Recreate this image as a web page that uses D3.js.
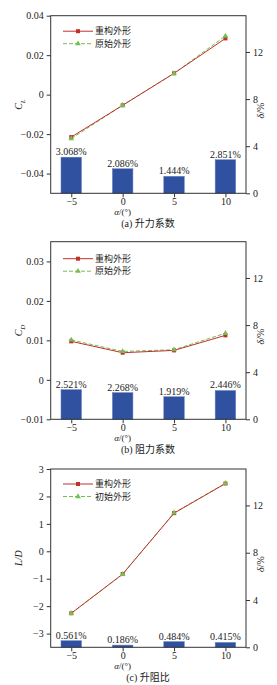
<!DOCTYPE html>
<html>
<head>
<meta charset="utf-8">
<script src="https://cdn.jsdelivr.net/npm/d3@7"></script>
<style>
  body { margin: 0; background: #fff; }
  svg { display: block; }
  text { font-family: "Liberation Serif", "Noto Sans CJK SC", serif; fill: #222; }
</style>
</head>
<body>
<svg id="s" width="277" height="685"></svg>
<script>
// Data
const alpha = [-5, 0, 5, 10];

const clRebuilt = [-0.0215, -0.0054, 0.0108, 0.0285],
  clOriginal = [-0.0223, -0.0054, 0.0108, 0.0297],
  clDelta = [3.068, 2.086, 1.444, 2.851];

const cdRebuilt = [0.00975, 0.00687, 0.00746, 0.01127],
  cdOriginal = [0.0101, 0.0072, 0.00763, 0.0118],
  cdDelta = [2.521, 2.268, 1.919, 2.446];

const ldRebuilt = [-2.26, -0.83, 1.39, 2.47],
  ldOriginal = [-2.26, -0.84, 1.40, 2.48],
  ldDelta = [0.561, 0.186, 0.484, 0.415];

const xTicks = [-5, 0, 5, 10],
  deltaTicks = [0, 4, 8, 12],
  clTicks = [-0.04, -0.02, 0, 0.02, 0.04],
  cdTicks = [-0.01, 0, 0.01, 0.02, 0.03],
  ldTicks = [-3, -2, -1, 0, 1, 2, 3];

const legendNames = [["重构外形", "原始外形"], ["重构外形", "原始外形"], ["重构外形", "初始外形"]],
  captions = ["(a) 升力系数", "(b) 阻力系数", "(c) 升阻比"];

// Panels
const svg = d3.select("#s"),
  left = 50.7, right = 246,
  red = "#c0312c", green = "#76bd55", blue = "#2f51a0";

const panels = [
  { top: 15.7, h: 177.6, dom: [-0.05, 0.04], ticks: clTicks, fmt: d3.format(".2~f"), ylab: ["C", "L"], rb: clRebuilt, og: clOriginal, dl: clDelta, leg: [15.5, 28] },
  { top: 241.7, h: 177.6, dom: [-0.01, 0.035], ticks: cdTicks, fmt: d3.format(".2~f"), ylab: ["C", "D"], rb: cdRebuilt, og: cdOriginal, dl: cdDelta, leg: [17, 29.5] },
  { top: 469, h: 178.3, dom: [-3.5, 3], ticks: ldTicks, fmt: d3.format("d"), ylab: ["L/D", null], rb: ldRebuilt, og: ldOriginal, dl: ldDelta, leg: [15, 27.5] }
];

const x = d3.scaleLinear().domain([-7, 12]).range([left, right]);

panels.forEach((p, i) => {
  const g = svg.append("g"),
    bottom = p.top + p.h,
    y = d3.scaleLinear().domain(p.dom).range([bottom, p.top]),
    yr = d3.scaleLinear().domain([0, 15.08]).range([bottom, p.top]);

  // bars
  g.selectAll(".bar").data(p.dl).join("rect")
    .attr("x", (d, j) => x(alpha[j] - 1))
    .attr("width", x(1) - x(-1))
    .attr("y", d => yr(d))
    .attr("height", d => bottom - yr(d))
    .attr("fill", blue)
    .attr("stroke", "#6d86c2")
    .attr("stroke-width", 0.5);

  g.selectAll(".blab").data(p.dl).join("text")
    .attr("x", (d, j) => x(alpha[j]))
    .attr("y", d => yr(d) - 2)
    .attr("text-anchor", "middle")
    .attr("font-size", 10)
    .text(d => d3.format(".3f")(d) + "%");

  // lines
  const line = vals => d3.line().x((d, j) => x(alpha[j])).y(d => y(d))(vals);
  g.append("path").attr("d", line(p.og)).attr("fill", "none")
    .attr("stroke", green).attr("stroke-width", 1).attr("stroke-dasharray", "4,2");
  g.append("path").attr("d", line(p.rb)).attr("fill", "none")
    .attr("stroke", red).attr("stroke-width", 1);
  g.selectAll(".sq").data(p.rb).join("rect")
    .attr("x", (d, j) => x(alpha[j]) - 2)
    .attr("y", d => y(d) - 2)
    .attr("width", 4).attr("height", 4)
    .attr("fill", red);
  const tri = d3.symbol().type(d3.symbolTriangle).size(14);
  g.selectAll(".tri").data(p.og).join("path")
    .attr("d", tri)
    .attr("transform", (d, j) => `translate(${x(alpha[j])},${y(d)})`)
    .attr("fill", green);

  // frame + axes
  g.append("rect").attr("x", left).attr("y", p.top).attr("width", right - left).attr("height", p.h)
    .attr("fill", "none").attr("stroke", "#333").attr("stroke-width", 1);

  const ax = g.append("g").attr("transform", `translate(0,${bottom})`)
    .call(d3.axisBottom(x).tickValues(xTicks).tickSize(4).tickPadding(1).tickFormat(d3.format("d")));
  const ay = g.append("g").attr("transform", `translate(${left},0)`)
    .call(d3.axisLeft(y).tickValues(p.ticks).tickSize(4).tickPadding(3).tickFormat(p.fmt));
  const ar = g.append("g").attr("transform", `translate(${right},0)`)
    .call(d3.axisRight(yr).tickValues(deltaTicks).tickSize(4).tickPadding(3).tickFormat(d3.format("d")));
  [ax, ay, ar].forEach(a => {
    a.select(".domain").remove();
    a.selectAll("line").attr("stroke", "#333");
    a.selectAll("text").attr("font-size", 10).attr("fill", "#222")
      .style("font-family", "'Liberation Serif', serif");
  });

  // axis titles
  const yt = g.append("text")
    .attr("transform", `translate(22,${p.top + p.h / 2}) rotate(-90)`)
    .attr("text-anchor", "middle").attr("font-size", 10).attr("font-style", "italic");
  yt.append("tspan").text(p.ylab[0]);
  if (p.ylab[1]) yt.append("tspan").attr("font-size", 7).attr("dy", 2.5).text(p.ylab[1]);

  g.append("text")
    .attr("transform", `translate(264,${p.top + p.h / 2 + 6}) rotate(-90)`)
    .attr("text-anchor", "middle").attr("font-size", 10)
    .html('<tspan font-style="italic">δ</tspan>/%');

  g.append("text")
    .attr("x", x(0)).attr("y", bottom + 22)
    .attr("text-anchor", "middle").attr("font-size", 9)
    .html('<tspan font-style="italic">α</tspan>/(°)');

  g.append("text")
    .attr("x", 148).attr("y", bottom + 33.5)
    .attr("text-anchor", "middle").attr("font-size", 10)
    .style("font-family", "'Liberation Serif', 'Noto Sans CJK SC', serif")
    .text(captions[i]);

  // legend
  const lg = g.append("g").attr("transform", `translate(63,${p.top})`);
  lg.append("line").attr("x1", 0).attr("x2", 30).attr("y1", p.leg[0]).attr("y2", p.leg[0])
    .attr("stroke", red).attr("stroke-width", 1);
  lg.append("rect").attr("x", 13).attr("y", p.leg[0] - 2).attr("width", 4).attr("height", 4).attr("fill", red);
  lg.append("line").attr("x1", 0).attr("x2", 30).attr("y1", p.leg[1]).attr("y2", p.leg[1])
    .attr("stroke", green).attr("stroke-width", 1).attr("stroke-dasharray", "4,2");
  lg.append("path").attr("d", tri).attr("transform", `translate(15,${p.leg[1]})`).attr("fill", green);
  legendNames[i].forEach((n, k) => {
    lg.append("text").attr("x", 32).attr("y", p.leg[k] + 3.3)
      .attr("font-size", 9)
      .style("font-family", "'Noto Sans CJK SC', sans-serif")
      .text(n);
  });
});
</script>
</body>
</html>
